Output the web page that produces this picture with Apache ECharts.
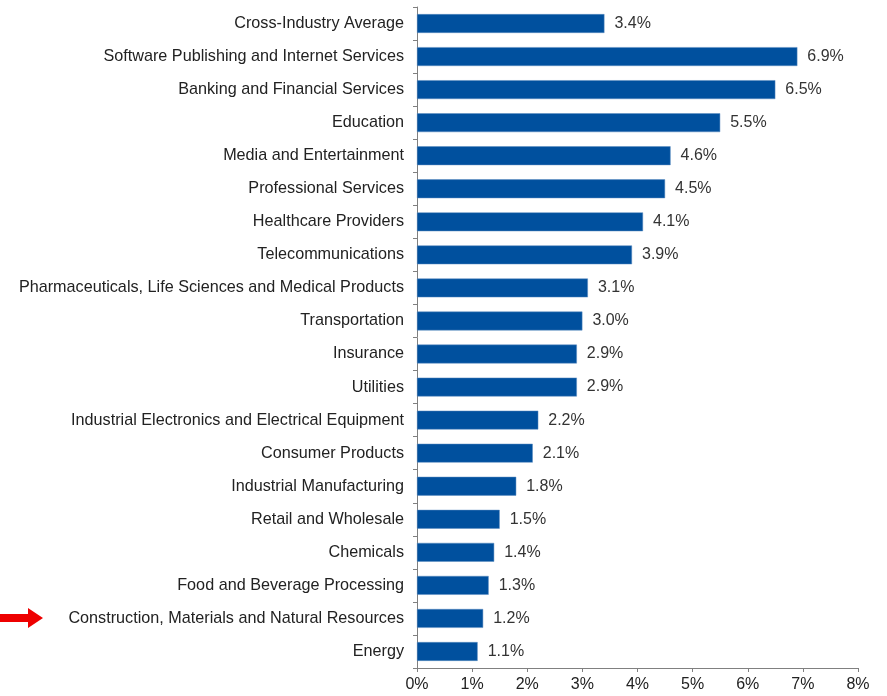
<!doctype html>
<html>
<head>
<meta charset="UTF-8">
<title>Industry chart</title>
<script src="https://cdn.jsdelivr.net/npm/echarts@6/dist/echarts.min.js"></script>
<style>
  html, body { margin: 0; padding: 0; background: #fff; }
  #chart { width: 887px; height: 696px; }
</style>
</head>
<body>
<div id="chart"></div>
<script>
// 行业名称（从上到下）
var industries = [
  'Cross-Industry Average',
  'Software Publishing and Internet Services',
  'Banking and Financial Services',
  'Education',
  'Media and Entertainment',
  'Professional Services',
  'Healthcare Providers',
  'Telecommunications',
  'Pharmaceuticals, Life Sciences and Medical Products',
  'Transportation',
  'Insurance',
  'Utilities',
  'Industrial Electronics and Electrical Equipment',
  'Consumer Products',
  'Industrial Manufacturing',
  'Retail and Wholesale',
  'Chemicals',
  'Food and Beverage Processing',
  'Construction, Materials and Natural Resources',
  'Energy'
];
// 百分比数值
var percents = [3.4, 6.9, 6.5, 5.5, 4.6, 4.5, 4.1, 3.9, 3.1, 3.0, 2.9, 2.9, 2.2, 2.1, 1.8, 1.5, 1.4, 1.3, 1.2, 1.1];
var xTicks = [0, 1, 2, 3, 4, 5, 6, 7, 8];

var myChart = echarts.init(document.getElementById('chart'));
var font = 'Liberation Sans, Arial, sans-serif';

var option = {
  backgroundColor: '#fff',
  animation: false,
  grid: { left: 417, right: 29, top: 7, bottom: 28 },
  xAxis: {
    type: 'value',
    min: xTicks[0],
    max: xTicks[xTicks.length - 1],
    interval: 1,
    splitLine: { show: false },
    axisLine: { show: true, lineStyle: { color: '#808080', width: 1 } },
    axisTick: { show: true, length: 4, lineStyle: { color: '#808080' } },
    axisLabel: {
      color: '#222', fontSize: 16, fontFamily: font, margin: 9,
      formatter: function (v) { return v + '%'; }
    }
  },
  yAxis: {
    type: 'category',
    inverse: true,
    data: industries,
    axisLine: { show: true, lineStyle: { color: '#808080', width: 1 } },
    axisTick: { show: true, length: 4, alignWithLabel: false, lineStyle: { color: '#808080' } },
    axisLabel: { color: '#222', fontSize: 16.2, fontFamily: font, margin: 13 }
  },
  series: [{
    type: 'bar',
    data: percents,
    barWidth: '57%',
    itemStyle: { color: '#00509E', borderColor: '#5d8cc0', borderWidth: 0.5 },
    label: {
      show: true,
      position: 'right',
      distance: 10,
      color: '#333',
      fontSize: 16,
      fontFamily: font,
      formatter: function (p) { return p.value.toFixed(1) + '%'; }
    }
  }],
  graphic: [{
    type: 'polygon',
    left: 0,
    top: 608,
    shape: { points: [[0, 6], [28, 6], [28, 0], [43, 10], [28, 20], [28, 14], [0, 14]] },
    style: { fill: '#ee0000' }
  }]
};
myChart.setOption(option);
</script>
</body>
</html>
